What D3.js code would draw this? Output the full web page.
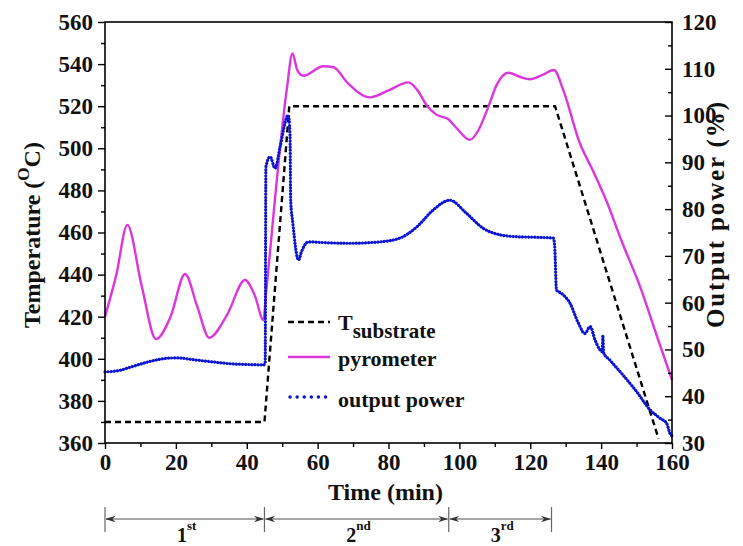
<!DOCTYPE html>
<html>
<head>
<meta charset="utf-8">
<script src="https://cdn.jsdelivr.net/npm/d3@7"></script>
<style>
  body { margin: 0; background: #fff; }
  svg text { font-family: "Liberation Serif", "Times New Roman", serif; font-weight: bold; fill: #111; }
</style>
</head>
<body>
<svg id="chart" width="743" height="546"></svg>
<script>
// Substrate set-point profile (°C)
const substrateTime = [0, 45, 52, 127, 156.2];
const substrateTemp = [370, 370, 520, 520, 362];

// Pyrometer reading (°C)
const pyroTime = [0, 3.2, 6.3, 10.3, 14.4, 18.5, 22.6, 26, 29.4, 34.5, 39.5, 42.3, 44.7, 45.5, 51.3, 52.9, 54.3, 56, 61.6, 64.5, 68.5, 74.8, 80, 85.6, 88, 90.7, 93.5, 96.9, 99, 103, 105.5, 108.2, 110.5, 113.8, 117, 119.9, 123, 126.7, 129.3, 134, 137.5, 141.4, 146, 151, 155.5, 160];
const pyroTemp = [420, 440, 463.6, 435, 409.4, 420, 440.3, 425, 410, 421, 437.4, 430, 418.4, 432, 528, 545.1, 537, 534.5, 539, 538.5, 531, 524.2, 527.5, 531.3, 528, 520.6, 516, 513.8, 510, 504, 509, 519.8, 530, 535.9, 534, 532.8, 534.5, 537.2, 527.7, 502.4, 490, 475.4, 455, 434.3, 412, 390];

// Heater output power (%)
const powerTime = [0, 4, 8, 12, 17.4, 20.2, 25, 29.6, 36.1, 40, 44.7, 45.2, 45.4, 46.6, 48, 49.4, 51.7, 52.2, 52.4, 53, 54.6, 55.5, 57.4, 63, 69.1, 77.6, 83.2, 88, 92.6, 97.3, 102, 106.7, 111.5, 116.2, 121, 126.5, 126.9, 127.4, 128.8, 131.2, 133.6, 135.4, 136.9, 138.3, 139.7, 140.3, 140.5, 140.7, 142.5, 146.2, 150, 153.8, 156.6, 158.5, 159.4, 160];
const powerPct = [45.2, 45.5, 46.4, 47.3, 48.1, 48.2, 47.8, 47.4, 46.9, 46.8, 46.7, 47, 89, 91.2, 88.7, 93.3, 100.1, 96.2, 81.9, 77, 69.1, 71, 73.0, 72.8, 72.7, 73.0, 73.8, 76.2, 79.8, 81.9, 79.1, 75.9, 74.5, 74.1, 74.0, 73.8, 72, 62.7, 62, 59.9, 55.6, 53.4, 54.9, 52, 49.9, 49.5, 53, 49.3, 47.7, 44.5, 41, 37.1, 35.3, 34.2, 32.1, 31.5];

// Axis ticks
const timeTicks = [0, 20, 40, 60, 80, 100, 120, 140, 160];
const timeMinor = [10, 30, 50, 70, 90, 110, 130, 150];
const tempTicks = [360, 380, 400, 420, 440, 460, 480, 500, 520, 540, 560];
const tempMinor = [370, 390, 410, 430, 450, 470, 490, 510, 530, 550];
const powerTicks = [30, 40, 50, 60, 70, 80, 90, 100, 110, 120];
const powerMinor = [35, 45, 55, 65, 75, 85, 95, 105, 115];

// Process stages along the time axis
const stageBounds = [0, 45, 97, 126];
const stageNums = ["1", "2", "3"];
const stageSups = ["st", "nd", "rd"];

const svg = d3.select("#chart");
const plotLeft = 105, plotRight = 672, plotTop = 22, plotBottom = 443;

const x = d3.scaleLinear().domain([0, 160]).range([plotLeft, plotRight]);
const yT = d3.scaleLinear().domain([360, 560]).range([plotBottom, plotTop]);
const yP = d3.scaleLinear().domain([30, 120]).range([plotBottom, plotTop]);

const magenta = "#dc36dc";
const blue = "#0b14d0";

// ---- curves ----
const substrateLine = d3.line().x(d => x(d[0])).y(d => yT(d[1]));
svg.append("path")
  .attr("d", substrateLine(substrateTime.map((t, i) => [t, substrateTemp[i]])))
  .attr("fill", "none").attr("stroke", "#000").attr("stroke-width", 2.4)
  .attr("stroke-dasharray", "6,4");

const pyroLine = d3.line().curve(d3.curveMonotoneX).x(d => x(d[0])).y(d => yT(d[1]));
svg.append("path")
  .attr("d", pyroLine(pyroTime.map((t, i) => [t, pyroTemp[i]])))
  .attr("fill", "none").attr("stroke", magenta).attr("stroke-width", 2.4);

const powerLine = d3.line().curve(d3.curveMonotoneX).x(d => x(d[0])).y(d => yP(d[1]));
svg.append("path")
  .attr("d", powerLine(powerTime.map((t, i) => [t, powerPct[i]])))
  .attr("fill", "none").attr("stroke", blue).attr("stroke-width", 3.2)
  .attr("stroke-linecap", "round").attr("stroke-dasharray", "0.1,3");

// ---- axes ----
function styleAxis(g, fontSize) {
  g.selectAll(".domain").remove();
  g.selectAll("line").attr("stroke", "#000").attr("stroke-width", 1.4);
  g.selectAll("text").style("font-size", fontSize + "px").attr("fill", "#111");
}

// frame
svg.append("rect").attr("x", plotLeft).attr("y", plotTop)
  .attr("width", plotRight - plotLeft).attr("height", plotBottom - plotTop)
  .attr("fill", "none").attr("stroke", "#000").attr("stroke-width", 1.6);

const gx = svg.append("g").attr("transform", `translate(0,${plotBottom})`)
  .call(d3.axisBottom(x).tickValues(timeTicks).tickSize(6).tickPadding(5).tickFormat(d3.format("d")));
styleAxis(gx, 23);
const gxm = svg.append("g").attr("transform", `translate(0,${plotBottom})`)
  .call(d3.axisBottom(x).tickValues(timeMinor).tickSize(4).tickFormat(""));
styleAxis(gxm, 23);

const gl = svg.append("g").attr("transform", `translate(${plotLeft},0)`)
  .call(d3.axisLeft(yT).tickValues(tempTicks).tickSize(7).tickPadding(5).tickFormat(d3.format("d")));
styleAxis(gl, 23);
const glm = svg.append("g").attr("transform", `translate(${plotLeft},0)`)
  .call(d3.axisLeft(yT).tickValues(tempMinor).tickSize(4).tickFormat(""));
styleAxis(glm, 23);

const gr = svg.append("g").attr("transform", `translate(${plotRight},0)`)
  .call(d3.axisRight(yP).tickValues(powerTicks).tickSize(-7).tickPadding(10).tickFormat(d3.format("d")));
styleAxis(gr, 23);
const grm = svg.append("g").attr("transform", `translate(${plotRight},0)`)
  .call(d3.axisRight(yP).tickValues(powerMinor).tickSize(-4).tickFormat(""));
styleAxis(grm, 23);

// ---- axis titles ----
svg.append("text").attr("x", (plotLeft + plotRight) / 2 - 3).attr("y", 500)
  .attr("text-anchor", "middle").style("font-size", "24px").text("Time (min)");

const tl = svg.append("text")
  .attr("transform", "translate(40,235) rotate(-90)")
  .attr("text-anchor", "middle").style("font-size", "24px");
tl.append("tspan").text("Temperature (");
tl.append("tspan").attr("dy", -11).style("font-size", "17px").text("O");
tl.append("tspan").attr("dy", 11).text("C)");

svg.append("text")
  .attr("transform", "translate(724,215) rotate(-90)")
  .attr("text-anchor", "middle").style("font-size", "25px")
  .attr("textLength", 226).attr("lengthAdjust", "spacing")
  .text("Output power (%)");

// ---- legend ----
const lg = svg.append("g");
lg.append("line").attr("x1", 288).attr("x2", 330).attr("y1", 322).attr("y2", 322)
  .attr("stroke", "#000").attr("stroke-width", 2.4).attr("stroke-dasharray", "6,4");
const lt = lg.append("text").attr("x", 338).attr("y", 330).style("font-size", "22px");
lt.append("tspan").text("T");
lt.append("tspan").attr("dy", 8).style("font-size", "21px").text("substrate");

lg.append("line").attr("x1", 288).attr("x2", 330).attr("y1", 357).attr("y2", 357)
  .attr("stroke", magenta).attr("stroke-width", 2.4);
lg.append("text").attr("x", 338).attr("y", 366).style("font-size", "22px").text("pyrometer");

lg.append("line").attr("x1", 290).attr("x2", 330).attr("y1", 397).attr("y2", 397)
  .attr("stroke", blue).attr("stroke-width", 3.4).attr("stroke-linecap", "round")
  .attr("stroke-dasharray", "0.1,7");
lg.append("text").attr("x", 338).attr("y", 407).style("font-size", "22px").text("output power");

// ---- stage annotation under the time axis ----
const defs = svg.append("defs");
defs.append("marker").attr("id", "arrowHead")
  .attr("viewBox", "0 -4 10 8").attr("refX", 9.5).attr("refY", 0)
  .attr("markerWidth", 10).attr("markerHeight", 8).attr("markerUnits", "userSpaceOnUse")
  .attr("orient", "auto-start-reverse")
  .append("path").attr("d", "M0,-3.2L10,0L0,3.2L3,0Z").attr("fill", "#333");

const stageY = 519;
stageBounds.forEach(b => {
  svg.append("line").attr("x1", x(b)).attr("x2", x(b)).attr("y1", 507).attr("y2", 532)
    .attr("stroke", "#666").attr("stroke-width", 1.2);
});
stageNums.forEach((n, i) => {
  const a = x(stageBounds[i]), b = x(stageBounds[i + 1]);
  svg.append("line").attr("x1", a + 1).attr("x2", b - 1).attr("y1", stageY).attr("y2", stageY)
    .attr("stroke", "#888").attr("stroke-width", 1.3)
    .attr("marker-start", "url(#arrowHead)").attr("marker-end", "url(#arrowHead)");
  const t = svg.append("text").attr("x", (a + b) / 2 + 2).attr("y", 542)
    .attr("text-anchor", "middle").style("font-size", "20px");
  t.append("tspan").text(n);
  t.append("tspan").attr("dy", -12).style("font-size", "13px").text(stageSups[i]);
});
</script>
</body>
</html>
